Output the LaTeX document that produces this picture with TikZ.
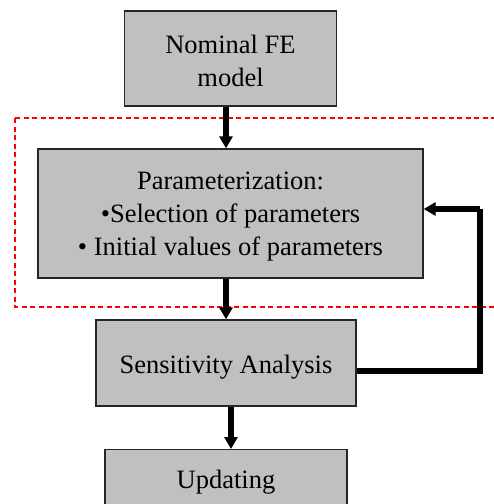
\documentclass[tikz,border=0pt]{standalone}
\usepackage{fontspec}
\setmainfont{Liberation Serif}
\usetikzlibrary{arrows.meta,calc}
\begin{document}
\begin{tikzpicture}[x=1pt,y=-1pt,
  box/.style={draw=black!85,line width=1.3pt,fill={rgb,255:red,192;green,192;blue,192},inner sep=0pt},
  txt/.style={align=center,inner sep=0pt,font=\fontsize{26.5}{33}\selectfont},
  arr/.style={line width=5.5pt,-{Triangle[length=12pt,width=13pt]}},
  fb/.style={line width=5.5pt},
  zone/.style={draw=red,line width=1.5pt,dash pattern=on 5pt off 3.5pt}]
\useasboundingbox (0,0) rectangle (494,504);
\clip (0,0) rectangle (494,504);
\node[box,minimum width=212pt,minimum height=95pt] (nom) at (230.5,58.5) {};
\node[txt] (nomt) at (230.5,61) {Nominal FE\\model};
\draw[zone] (15,118) -- (510,118) (15,118) -- (15,307) -- (510,307);
\node[box,minimum width=385pt,minimum height=129pt] (par) at (230.5,213.5) {};
\node[txt] (part) at (230.5,216.5)
  {Parameterization:\\\textbullet Selection of parameters\\\textbullet\ Initial values of parameters};
\node[box,minimum width=260pt,minimum height=86pt] (sen) at (226,363) {};
\node[txt] (sent) at (226,367) {Sensitivity Analysis};
\node[box,minimum width=242pt,minimum height=100pt,anchor=north] (upd) at (226,449) {};
\node[txt] (updt) at (226,482) {Updating};
\coordinate (a1) at (226,0);
\coordinate (a3) at (231,0);
\draw[arr] (nom.south -| a1) -- (par.north -| a1);
\draw[arr] (par.south -| a1) -- (sen.north -| a1);
\draw[arr] (sen.south -| a3) -- (upd.north -| a3);
\coordinate (fr) at (480,371);
\coordinate (ft) at (480,209);
\draw[fb] (sen.east |- fr) -- (fr) -- (ft);
\draw[arr] (ft) -- (par.east |- ft);
\end{tikzpicture}
\end{document}
